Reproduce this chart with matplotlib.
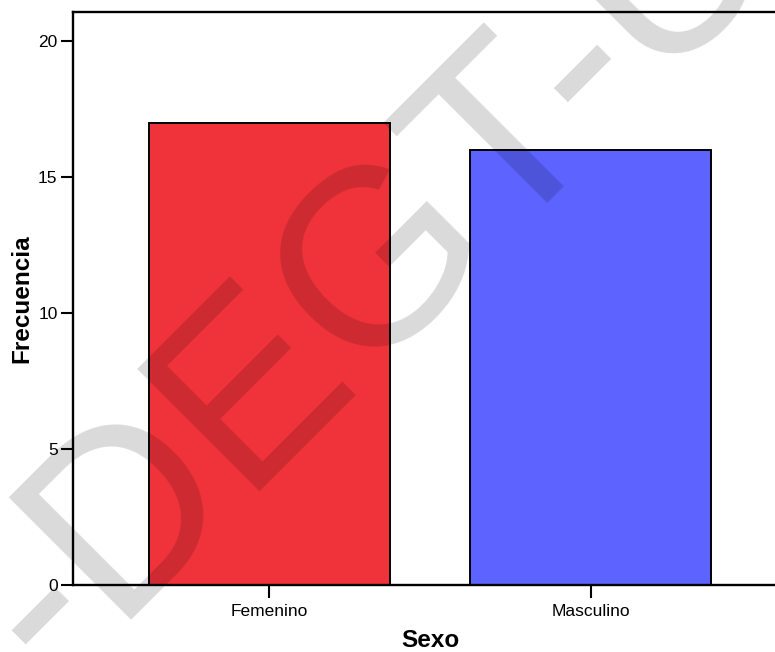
import matplotlib
matplotlib.use("Agg")
import matplotlib.pyplot as plt

# Frequency of respondents by sex
categories = ["Femenino", "Masculino"]
counts = [17, 16]
bar_colors = ["#F0333A", "#5C63FF"]
y_ticks = [0, 5, 10, 15, 20]
watermark = "-DEGT-U"

plt.rcParams["font.family"] = ["Liberation Sans", "DejaVu Sans"]

W, H, DPI = 775, 652, 100
fig = plt.figure(figsize=(W / DPI, H / DPI), dpi=DPI)
fig.patch.set_facecolor("white")

# axes box in pixels: left 73, right 787 (runs past the right edge), bottom 585, top 12
left, right, bottom, top = 73, 787, 585, 12
ax = fig.add_axes([left / W, 1 - bottom / H, (right - left) / W, (bottom - top) / H])

x = list(range(len(categories)))
ax.bar(x, counts, width=0.75, color=bar_colors, edgecolor="black", linewidth=1.4, zorder=2)

ax.set_xlim(-0.612, 1.612)
ax.set_ylim(0, 21.07)
ax.set_xticks(x)
ax.set_xticklabels(categories)
ax.set_yticks(y_ticks)

for s in ax.spines.values():
    s.set_linewidth(1.7)
    s.set_color("black")

ax.tick_params(axis="y", direction="out", length=8.6, width=1.5, pad=2.5, labelsize=12.5)
ax.tick_params(axis="x", direction="out", length=9.0, width=1.5, pad=5, labelsize=12.5)

ax.set_ylabel("Frecuencia", fontsize=17.5, fontweight="bold")
ax.set_xlabel("Sexo", fontsize=17.5, fontweight="bold")
ax.yaxis.label.set_va("baseline")
ax.xaxis.label.set_va("baseline")
ax.yaxis.set_label_coords((28 - left) / (right - left), 0.5)
ax.xaxis.set_label_coords((430 - left) / (right - left), (bottom - 647) / (bottom - top))

# diagonal watermark over the plot
ox, oy = 55.8, 684.2
fig.text(ox / W, 1 - oy / H, watermark, transform=fig.transFigure,
         rotation=45, rotation_mode="anchor", ha="left", va="baseline",
         fontsize=181, color="black", alpha=0.15, zorder=10)

fig.savefig("out.png", dpi=DPI)
